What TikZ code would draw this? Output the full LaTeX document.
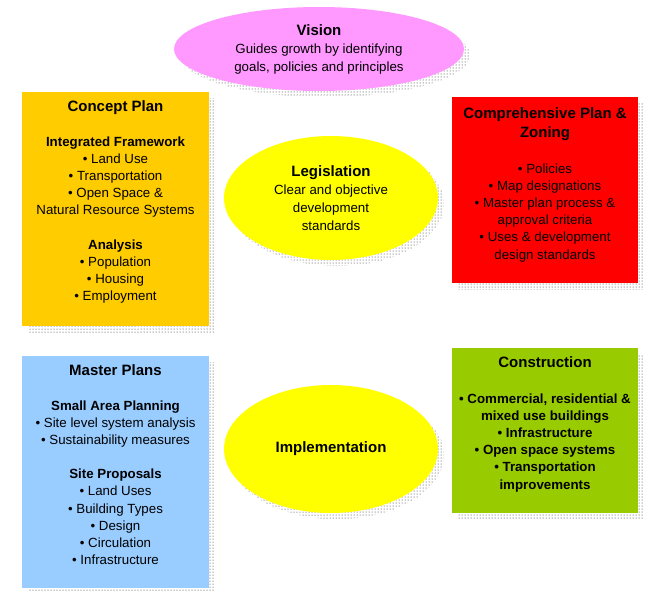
\documentclass[tikz,border=0pt]{standalone}
\usepackage{fontspec}
\setmainfont{Liberation Sans}
\usetikzlibrary{positioning, shapes.geometric, shadows, patterns}

\definecolor{visionpink}{RGB}{255,153,255}
\definecolor{conceptorange}{RGB}{255,204,0}
\definecolor{compred}{RGB}{255,0,0}
\definecolor{masterblue}{RGB}{153,204,255}
\definecolor{constrgreen}{RGB}{153,204,0}
\definecolor{ovalyellow}{RGB}{255,255,0}

\begin{document}
\begin{tikzpicture}[x = 1pt, y = -1pt, % pixel grid, y downwards
    node distance = 6pt,
    dotshadow/.style = {general shadow = {shadow xshift = 6pt, shadow yshift = -6pt,
        pattern = dots, pattern color = black!85}},
    box/.style = {rectangle, dotshadow, inner sep = 0pt},
    oval/.style = {ellipse, dotshadow, inner sep = 0pt, align = center,
        font = \fontsize{13.3}{18}\selectfont},
    txt/.style = {align = center, inner sep = 0pt, font = \fontsize{13.3}{17.2}\selectfont},
    head/.style = {align = center, inner sep = 0pt, font = \fontsize{15}{19}\selectfont\bfseries}
]
\useasboundingbox (0,0) rectangle (647,590);

% boxes
\node[box, fill = conceptorange, minimum width = 187pt, minimum height = 234pt]
    (concept) at (115.5,209) {};
\node[box, fill = compred, minimum width = 186pt, minimum height = 186pt]
    (comp) at (545,190) {};
\node[box, fill = masterblue, minimum width = 187pt, minimum height = 232pt]
    (master) at (115.5,472) {};
\node[box, fill = constrgreen, minimum width = 186pt, minimum height = 165pt]
    (constr) at (545,430.5) {};

% ovals
\node[oval, fill = visionpink, minimum width = 290pt, minimum height = 84pt]
    (vision) at (319,49) {{\fontsize{15}{18}\selectfont\bfseries Vision}\\
    Guides growth by identifying\\ goals, policies and principles};
\node[oval, fill = ovalyellow, minimum width = 214pt, minimum height = 124pt]
    (legis) at (331,198) {{\fontsize{15}{18}\selectfont\bfseries Legislation}\\
    Clear and objective\\ development\\ standards};
\node[oval, fill = ovalyellow, minimum width = 214pt, minimum height = 128pt]
    (impl) at (331,449) {{\fontsize{15}{18}\selectfont\bfseries Implementation}};

% box texts
\node[head, below = 9pt of concept.north] (concepthead) {Concept Plan};
\node[txt, below = 21pt of concepthead] (concepttxt) {\textbf{Integrated Framework}\\
    • Land Use\\ • Transportation\\ • Open Space \&\\ Natural Resource Systems\\[17pt]
    \textbf{Analysis}\\ • Population\\ • Housing\\ • Employment};

\node[head, below = 11pt of comp.north] (comphead) {Comprehensive Plan \&\\ Zoning};
\node[txt, below = 22pt of comphead] (comptxt) {• Policies\\ • Map designations\\
    • Master plan process \&\\ approval criteria\\ • Uses \& development\\ design standards};

\node[head, below = 9pt of master.north] (masterhead) {Master Plans};
\node[txt, below = 24pt of masterhead] (mastertxt) {\textbf{Small Area Planning}\\
    • Site level system analysis\\ • Sustainability measures\\[17pt]
    \textbf{Site Proposals}\\ • Land Uses\\ • Building Types\\ • Design\\ • Circulation\\
    • Infrastructure};

\node[head, below = 9pt of constr.north] (constrhead) {Construction};
\node[txt, font = \fontsize{13.3}{17.2}\selectfont\bfseries, below = 25pt of constrhead]
    (constrtxt) {• Commercial, residential \&\\ mixed use buildings\\ • Infrastructure\\
    • Open space systems\\ • Transportation\\ improvements};
\end{tikzpicture}
\end{document}
